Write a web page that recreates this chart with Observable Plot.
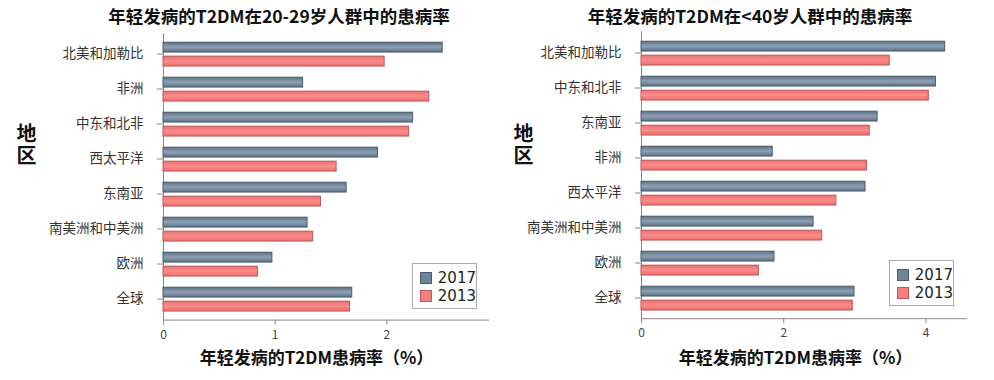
<!DOCTYPE html>
<html><head><meta charset="utf-8">
<script src="https://cdn.jsdelivr.net/npm/d3@7"></script>
<script src="https://cdn.jsdelivr.net/npm/@observablehq/plot@0.6"></script>
<style>
body{margin:0;background:#fff;font-family:"Noto Sans CJK SC","Noto Sans",sans-serif;}
#wrap{position:relative;width:994px;height:380px;overflow:hidden;}
.panel{position:absolute;top:0;width:497px;height:380px;}
.panel svg{position:absolute;top:30px;left:0;}
.title{position:absolute;top:4px;font-weight:bold;font-size:17.5px;line-height:24px;white-space:nowrap;transform:translateX(-50%);color:#111;}
.ylab{position:absolute;font-weight:bold;font-size:20px;line-height:22px;writing-mode:vertical-rl;text-orientation:upright;letter-spacing:2px;color:#111;}
.legend{position:absolute;border:1px solid #aaa;background:#fff;box-sizing:border-box;padding:5px 0 0 7px;}
.legend .item{display:flex;align-items:center;height:18px;font-size:15px;color:#222;font-family:"DejaVu Sans","Noto Sans",sans-serif;}
.legend .sw{width:12px;height:12px;margin-right:6px;box-sizing:border-box;}
g[aria-label="y-axis tick label"] text{font-size:13.5px;fill:#333;}
g[aria-label="x-axis tick label"] text{font-size:12px;fill:#444;}
</style>
</head><body>
<div id="wrap"></div>
<script>
const regionsA = ["北美和加勒比","非洲","中东和北非","西太平洋","东南亚","南美洲和中美洲","欧洲","全球"];
const a2017 = [2.50,1.25,2.235,1.92,1.64,1.29,0.975,1.69];
const a2013 = [1.98,2.38,2.20,1.55,1.41,1.34,0.845,1.67];
const regionsB = ["北美和加勒比","中东和北非","东南亚","非洲","西太平洋","南美洲和中美洲","欧洲","全球"];
const b2017 = [4.27,4.14,3.32,1.845,3.15,2.42,1.87,2.995];
const b2013 = [3.49,4.04,3.21,3.17,2.74,2.54,1.65,2.97];
const titleA = "年轻发病的T2DM在20-29岁人群中的患病率";
const titleB = "年轻发病的T2DM在<40岁人群中的患病率";
const xLabel = "年轻发病的T2DM患病率（%）";
const yLabel = "地区";
const series = ["2017","2013"];
const ticksA = [0,1,2];
const ticksB = [0,2,4];

const wrap = document.getElementById("wrap");

function makePanel(cfg){
  const panel = document.createElement("div");
  panel.className = "panel";
  panel.style.left = cfg.left + "px";
  wrap.appendChild(panel);

  const t = document.createElement("div");
  t.className = "title"; t.textContent = cfg.title;
  t.style.left = cfg.titleX + "px";
  panel.appendChild(t);

  const yl = document.createElement("div");
  yl.className = "ylab"; yl.textContent = yLabel;
  yl.style.left = "15px"; yl.style.top = "123px";
  panel.appendChild(yl);

  const d17 = cfg.regions.map((r,i)=>({region:r, v:cfg.v17[i]}));
  const d13 = cfg.regions.map((r,i)=>({region:r, v:cfg.v13[i]}));
  const band = (350 - cfg.mt - cfg.mb)/cfg.regions.length;

  const svg = Plot.plot({
    width: 497, height: 350,
    marginLeft: cfg.ml, marginRight: cfg.mr, marginTop: cfg.mt, marginBottom: cfg.mb,
    style: {color:"#888", background:"transparent", fontFamily:'"Noto Sans CJK SC", sans-serif'},
    x: {domain:[0, cfg.xmax], ticks: cfg.ticks, tickFormat: d3.format("d"), tickSize:5, tickPadding:5, line:true, label:null},
    y: {domain: cfg.regions, padding:0, tickSize:6, tickPadding:14, line:true, label:null},
    marks: [
      Plot.barX(d17, {x:"v", y:"region", fill:"url(#g2017)", stroke:"#4b5b6c", strokeWidth:1,
        insetTop: band*0.173, insetBottom: band*0.529}),
      Plot.barX(d13, {x:"v", y:"region", fill:"url(#g2013)", stroke:"#b85a5a", strokeWidth:1,
        insetTop: band*0.563, insetBottom: band*0.138}),
      Plot.text([xLabel], {text:d=>d, frameAnchor:"bottom", dy: cfg.labDy, dx: cfg.labDx,
        fontSize:17, fontWeight:"bold", fill:"#111"})
    ]
  });
  const defs = d3.select(svg).insert("defs", ":first-child");
  const g1 = defs.append("linearGradient").attr("id","g2017").attr("x1",0).attr("y1",0).attr("x2",0).attr("y2",1);
  g1.append("stop").attr("offset","0").attr("stop-color","#5d7085");
  g1.append("stop").attr("offset","0.5").attr("stop-color","#8ea1b4");
  g1.append("stop").attr("offset","1").attr("stop-color","#5d7085");
  const g2 = defs.append("linearGradient").attr("id","g2013").attr("x1",0).attr("y1",0).attr("x2",0).attr("y2",1);
  g2.append("stop").attr("offset","0").attr("stop-color","#ee6c6c");
  g2.append("stop").attr("offset","0.5").attr("stop-color","#fb8e8b");
  g2.append("stop").attr("offset","1").attr("stop-color","#ee6c6c");
  panel.appendChild(svg);

  const lg = document.createElement("div");
  lg.className = "legend";
  lg.style.left = cfg.lgX + "px"; lg.style.top = cfg.lgY + "px";
  lg.style.width = cfg.lgW + "px"; lg.style.height = cfg.lgH + "px";
  const cols = {"2017":["#6f8499","#4b5b6c"], "2013":["#f47f7e","#b85a5a"]};
  series.forEach(s=>{
    const it = document.createElement("div"); it.className="item";
    const sw = document.createElement("span"); sw.className="sw";
    sw.style.background = cols[s][0]; sw.style.border = "1px solid " + cols[s][1];
    const tx = document.createElement("span"); tx.textContent = s;
    it.appendChild(sw); it.appendChild(tx); lg.appendChild(it);
  });
  panel.appendChild(lg);
}

makePanel({left:0, title:titleA, titleX:279, regions:regionsA, v17:a2017, v13:a2013,
  xmax:2.91, ticks:ticksA, ml:163, mr:9, mt:3.1, mb:60.4, labDy:44, labDx:-9.5,
  lgX:412, lgY:263, lgW:65, lgH:46});
makePanel({left:497, title:titleB, titleX:253, regions:regionsB, v17:b2017, v13:b2013,
  xmax:4.57, ticks:ticksB, ml:144, mr:28, mt:1.4, mb:61.8, labDy:45, labDx:-8.5,
  lgX:392, lgY:260, lgW:65, lgH:46});
</script>
</body></html>
